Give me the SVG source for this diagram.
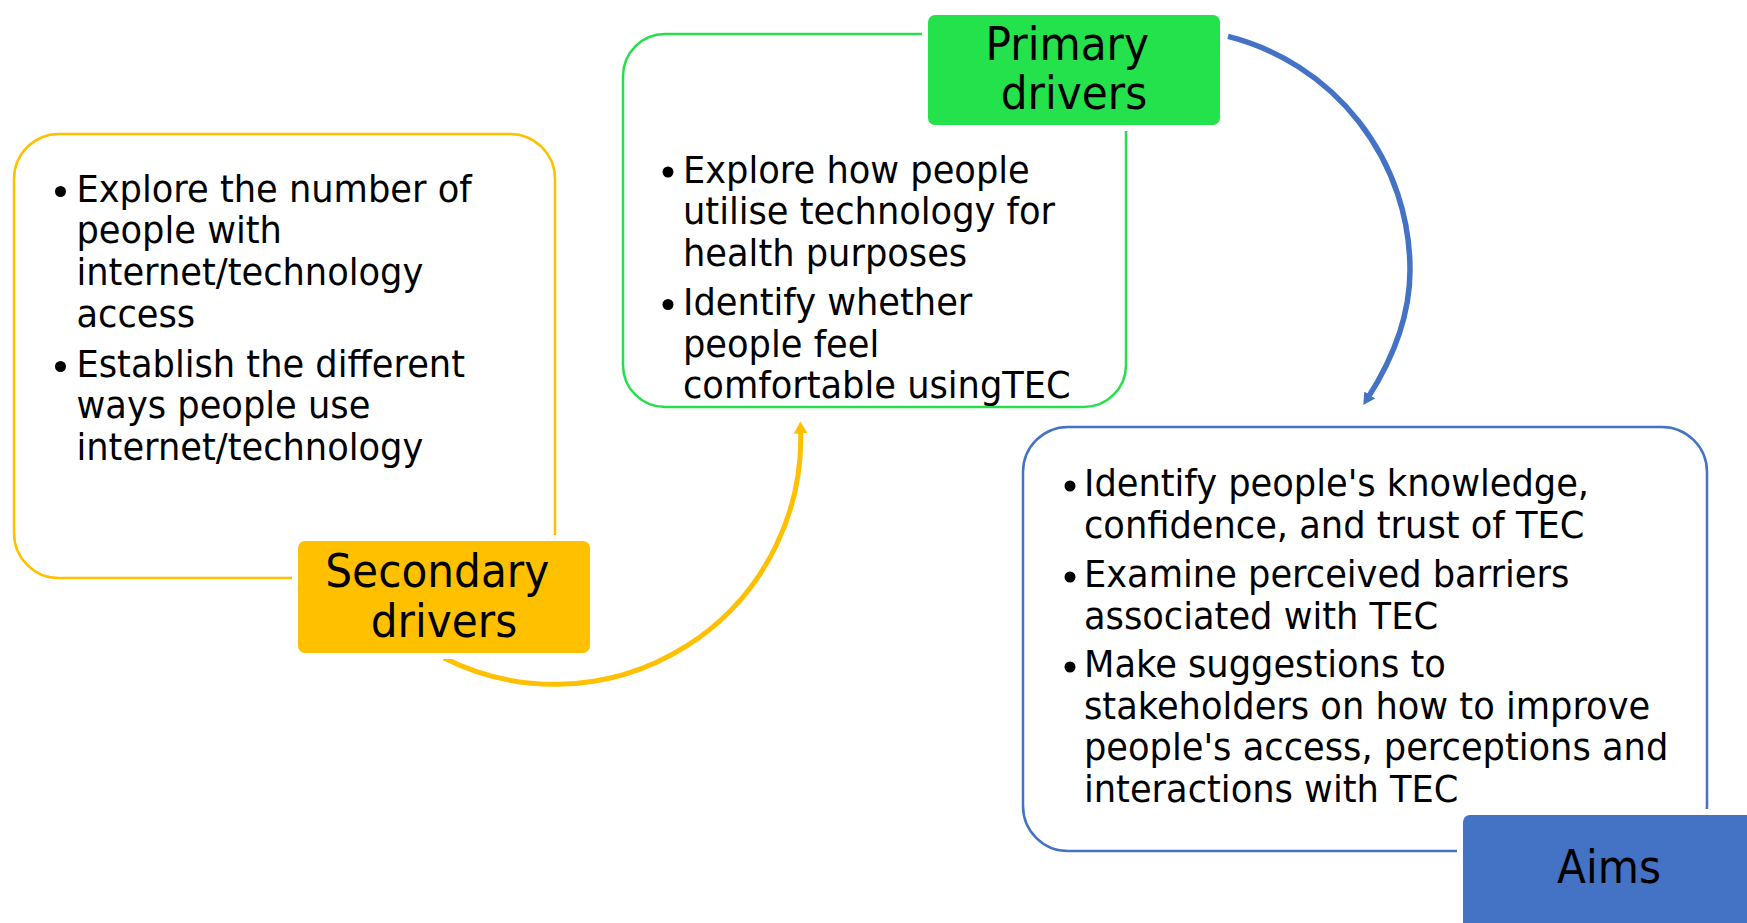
<svg xmlns="http://www.w3.org/2000/svg" width="1747" height="923" viewBox="0 0 1747 923">
  <style>
    .body { font-family: "DejaVu Sans", "Liberation Sans", sans-serif; font-size: 37.5px; fill: #000; }
    .label { font-family: "DejaVu Sans", "Liberation Sans", sans-serif; font-size: 45.5px; text-anchor: middle; fill: #000; }
    .frame { fill: #fff; stroke-width: 2.5; }
    .tag { stroke: #fff; stroke-width: 6; }
    .dot { fill: #000; }
    .link { fill: none; }
  </style>
  <defs>
    <marker id="head-blue" markerUnits="userSpaceOnUse" viewBox="0 -8 16 16" markerWidth="16" markerHeight="16" refX="4" refY="0" orient="auto">
      <path d="M0,-6.5 L12,0 L0,6.5 z" fill="#4472C4"/>
    </marker>
    <marker id="head-yellow" markerUnits="userSpaceOnUse" viewBox="0 -8 16 16" markerWidth="16" markerHeight="16" refX="3" refY="0" orient="auto">
      <path d="M0,-7 L12,0 L0,7 z" fill="#FFC000"/>
    </marker>
  </defs>

  <rect width="1747" height="923" fill="#fff"/>

  <!-- curved arrows between the three stages -->
  <g id="connectors">
    <path class="link" d="M444,658 A246,246 0 0 0 800.6,430.5" stroke="#FFC000" stroke-width="5" marker-end="url(#head-yellow)"/>
    <path class="link" d="M1228,36.4 A241,241 0 0 1 1410,270 C1410,322 1389.2,364.7 1367.6,398.3" stroke="#4472C4" stroke-width="5.5" marker-end="url(#head-blue)"/>
  </g>

  <!-- secondary drivers -->
  <g id="secondary-drivers">
    <rect class="frame" x="14" y="134" width="541" height="444" rx="45" stroke="#FFC000" stroke-width="2"/>
    <circle class="dot" cx="60.5" cy="191.5" r="5.5"/>
    <circle class="dot" cx="60.5" cy="366.5" r="5.5"/>
    <text class="body" transform="translate(76.5 0) scale(0.94 1)">
      <tspan x="0" y="201.7">Explore the number of</tspan>
      <tspan x="0" y="243.5">people with</tspan>
      <tspan x="0" y="285.3">internet/technology</tspan>
      <tspan x="0" y="327.1">access</tspan>
      <tspan x="0" y="376.7">Establish the different</tspan>
      <tspan x="0" y="418.5">ways people use</tspan>
      <tspan x="0" y="460.3">internet/technology</tspan>
    </text>
    <rect class="tag" x="295" y="538" width="298" height="118" rx="10" fill="#FFC000"/>
    <text class="label" transform="translate(444 0) scale(0.93 1)">
      <tspan x="0" y="587">Secondary</tspan>
      <tspan x="0" y="637">drivers</tspan>
    </text>
  </g>

  <!-- primary drivers -->
  <g id="primary-drivers">
    <rect class="frame" x="623" y="34" width="503" height="373" rx="42" stroke="#25E04C"/>
    <circle class="dot" cx="668" cy="172" r="5.5"/>
    <circle class="dot" cx="668" cy="304.5" r="5.5"/>
    <text class="body" transform="translate(683 0) scale(0.94 1)">
      <tspan x="0" y="182.7">Explore how people</tspan>
      <tspan x="0" y="224.3">utilise technology for</tspan>
      <tspan x="0" y="265.9">health purposes</tspan>
      <tspan x="0" y="315">Identify whether</tspan>
      <tspan x="0" y="356.6">people feel</tspan>
      <tspan x="0" y="398.2">comfortable usingTEC</tspan>
    </text>
    <rect class="tag" x="925" y="12" width="298" height="116" rx="10" fill="#23E24B"/>
    <text class="label" transform="translate(1074 0) scale(0.93 1)">
      <tspan x="0" y="60">Primary</tspan>
      <tspan x="0" y="109">drivers</tspan>
    </text>
  </g>

  <!-- aims -->
  <g id="aims">
    <rect class="frame" x="1023" y="427" width="684" height="424" rx="45" stroke="#4472C4"/>
    <circle class="dot" cx="1070" cy="486" r="5.5"/>
    <circle class="dot" cx="1070" cy="577" r="5.5"/>
    <circle class="dot" cx="1070" cy="667" r="5.5"/>
    <text class="body" transform="translate(1084 0) scale(0.94 1)">
      <tspan x="0" y="496">Identify people's knowledge,</tspan>
      <tspan x="0" y="537.7">confidence, and trust of TEC</tspan>
      <tspan x="0" y="587">Examine perceived barriers</tspan>
      <tspan x="0" y="628.7">associated with TEC</tspan>
      <tspan x="0" y="677">Make suggestions to</tspan>
      <tspan x="0" y="718.7">stakeholders on how to improve</tspan>
      <tspan x="0" y="760.4">people's access, perceptions and</tspan>
      <tspan x="0" y="802">interactions with TEC</tspan>
    </text>
    <rect class="tag" x="1460" y="812" width="300" height="125" rx="10" fill="#4472C4"/>
    <text class="label" transform="translate(1609 0) scale(0.93 1)" x="0" y="883">Aims</text>
  </g>
</svg>
